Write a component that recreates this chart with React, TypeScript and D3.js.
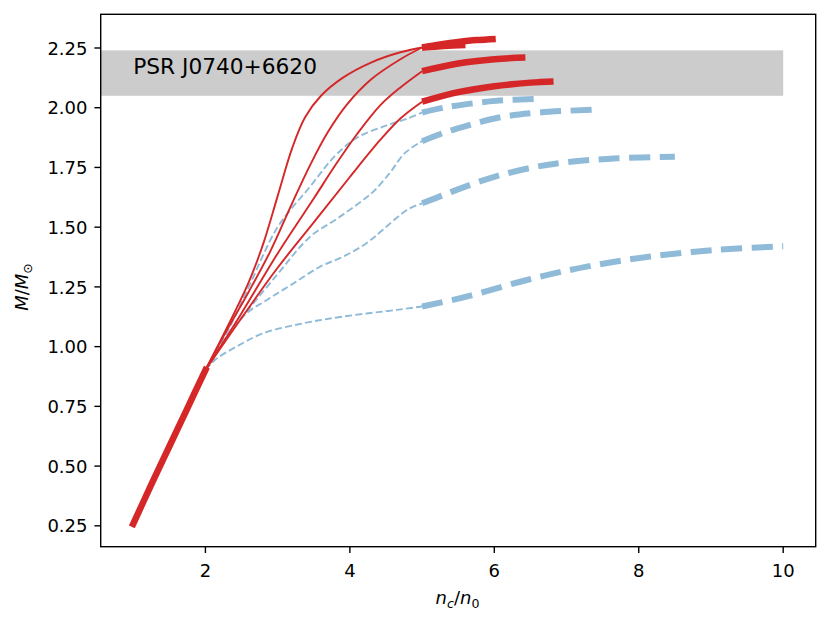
import * as d3 from 'd3';

type Pt = [number, number];

// hadronic branch shared by all curves
const lowBranch: Pt[] = [
  [1.0, 0.258], [1.25, 0.422], [1.5, 0.582], [1.75, 0.742], [2.0, 0.902],
];

// red: thin part up to n_c/n_0 = 5, thick part beyond
const redThin: Pt[][] = [
  [[2, 0.902], [2.3, 1.08], [2.6, 1.27], [2.8, 1.43], [3.0, 1.63], [3.2, 1.83], [3.38, 1.96], [3.6, 2.05], [3.9, 2.125], [4.3, 2.19], [4.7, 2.232], [5, 2.252]],
  [[2, 0.902], [2.3, 1.07], [2.6, 1.23], [2.9, 1.4], [3.2, 1.6], [3.45, 1.76], [3.7, 1.9], [3.95, 2.01], [4.3, 2.12], [4.7, 2.203], [5, 2.252]],
  [[2, 0.902], [2.5, 1.14], [3.0, 1.39], [3.5, 1.62], [3.8, 1.76], [4.1, 1.89], [4.42, 2.01], [4.7, 2.085], [5, 2.153]],
  [[2, 0.902], [2.5, 1.12], [3.0, 1.33], [3.5, 1.52], [4.0, 1.71], [4.42, 1.865], [4.7, 1.955], [5, 2.025]],
];
const redThick: Pt[][] = [
  [[5, 2.252], [5.3, 2.258], [5.6, 2.263]],
  [[5, 2.252], [5.25, 2.265], [5.5, 2.275], [5.75, 2.283], [6.02, 2.288]],
  [[5, 2.153], [5.5, 2.185], [6.0, 2.203], [6.43, 2.21]],
  [[5, 2.025], [5.5, 2.065], [6.0, 2.09], [6.5, 2.105], [6.82, 2.11]],
];

// blue: dashed, thin up to 5, thick beyond
const blueThin: Pt[][] = [
  [[2, 0.902], [2.3, 1.06], [2.6, 1.25], [3.0, 1.5], [3.45, 1.67], [3.8, 1.8], [4.1, 1.875], [4.5, 1.925], [4.8, 1.955], [5, 1.98]],
  [[2, 0.902], [2.4, 1.08], [2.99, 1.3], [3.45, 1.46], [3.82, 1.535], [4.1, 1.595], [4.33, 1.65], [4.56, 1.73], [4.76, 1.81], [5, 1.86]],
  [[2, 0.902], [2.52, 1.126], [2.85, 1.195], [3.22, 1.265], [3.59, 1.335], [3.91, 1.377], [4.23, 1.433], [4.46, 1.49], [4.79, 1.572], [5, 1.6]],
  [[2, 0.902], [2.16, 0.951], [2.43, 1.0], [2.8, 1.056], [3.36, 1.098], [3.91, 1.126], [4.65, 1.154], [5, 1.168]],
];
const blueThick: Pt[][] = [
  [[5, 1.98], [5.3, 2.0], [5.62, 2.015], [6.03, 2.029], [6.6, 2.037]],
  [[5, 1.86], [5.3, 1.895], [5.57, 1.92], [6.08, 1.96], [6.63, 1.98], [7.45, 1.993]],
  [[5, 1.6], [5.3, 1.635], [5.6, 1.67], [6.0, 1.711], [6.5, 1.748], [7.0, 1.772], [7.7, 1.788], [8.5, 1.795]],
  [[5, 1.168], [5.6, 1.208], [6.45, 1.279], [7.28, 1.335], [8.16, 1.377], [9.08, 1.405], [10, 1.42]],
];

const xTicks = [2, 4, 6, 8, 10];
const yTicks = [0.25, 0.5, 0.75, 1.0, 1.25, 1.5, 1.75, 2.0, 2.25];
const bandRange: [number, number] = [2.05, 2.24];
const bandEnd = 10;
const bandLabel = 'PSR J0740+6620';
const bandLabelPos: Pt = [1, 2.14];

const W = 830;
const H = 623;
const M = { left: 100.7, right: 815.7, top: 14.3, bottom: 546.7 };

const RED = '#d62728';
const BLUE = '#8fbbd9';
const FONT = 'DejaVu Sans, sans-serif';

export default function App() {
  const x = d3.scaleLinear().domain([0.55, 10.45]).range([M.left, M.right]);
  const y = d3.scaleLinear().domain([0.1626, 2.391]).range([M.bottom, M.top]);

  const line = d3
    .line<Pt>()
    .x((d) => x(d[0]))
    .y((d) => y(d[1]))
    .curve(d3.curveCatmullRom.alpha(0.5));

  const fmt = d3.format('.2f');

  return (
    <div style={{ position: 'fixed', left: 0, top: 0 }}>
      <svg width={W} height={H} style={{ display: 'block', background: '#fff' }}>
        {/* observational band */}
        <rect
          x={M.left}
          y={y(bandRange[1])}
          width={x(bandEnd) - M.left}
          height={y(bandRange[0]) - y(bandRange[1])}
          fill="#cccccc"
        />
        <text x={x(bandLabelPos[0])} y={y(bandLabelPos[1])} fontFamily={FONT} fontSize={21.7} fill="#000">
          {bandLabel}
        </text>

        {/* blue dashed curves */}
        {blueThin.map((d, i) => (
          <path key={'bt' + i} d={line(d) ?? ''} fill="none" stroke={BLUE} strokeWidth={1.9} strokeDasharray="7,3.2" />
        ))}
        {blueThick.map((d, i) => (
          <path key={'bk' + i} d={line(d) ?? ''} fill="none" stroke={BLUE} strokeWidth={6} strokeDasharray="21,9.5" />
        ))}

        {/* red curves */}
        <path d={line(lowBranch) ?? ''} fill="none" stroke={RED} strokeWidth={6.5} strokeLinecap="square" />
        {redThin.map((d, i) => (
          <path key={'rt' + i} d={line(d) ?? ''} fill="none" stroke={RED} strokeWidth={1.9} />
        ))}
        {redThick.map((d, i) => (
          <path key={'rk' + i} d={line(d) ?? ''} fill="none" stroke={RED} strokeWidth={6.5} strokeLinecap="butt" />
        ))}

        {/* axes frame */}
        <rect
          x={M.left}
          y={M.top}
          width={M.right - M.left}
          height={M.bottom - M.top}
          fill="none"
          stroke="#000"
          strokeWidth={1.4}
        />

        {/* x ticks */}
        {xTicks.map((t) => (
          <g key={'x' + t}>
            <line x1={x(t)} x2={x(t)} y1={M.bottom} y2={M.bottom + 6.3} stroke="#000" strokeWidth={1.4} />
            <text x={x(t)} y={576.5} textAnchor="middle" fontFamily={FONT} fontSize={18} fill="#000">
              {t}
            </text>
          </g>
        ))}

        {/* y ticks */}
        {yTicks.map((t) => (
          <g key={'y' + t}>
            <line x1={M.left - 6.3} x2={M.left} y1={y(t)} y2={y(t)} stroke="#000" strokeWidth={1.4} />
            <text x={87.5} y={y(t) + 6.6} textAnchor="end" fontFamily={FONT} fontSize={18} fill="#000">
              {fmt(t)}
            </text>
          </g>
        ))}

        {/* axis labels */}
        <text x={457.5} y={603.5} textAnchor="middle" fontFamily={FONT} fontSize={18} fill="#000">
          <tspan fontStyle="italic">n</tspan>
          <tspan fontStyle="italic" fontSize={12.6} dy={4}>c</tspan>
          <tspan dy={-4}>/</tspan>
          <tspan fontStyle="italic">n</tspan>
          <tspan fontSize={12.6} dy={4}>0</tspan>
        </text>
        <text
          transform={`translate(28,287) rotate(-90)`}
          textAnchor="middle"
          fontFamily={FONT}
          fontSize={18}
          fill="#000"
        >
          <tspan fontStyle="italic">M</tspan>
          <tspan>/</tspan>
          <tspan fontStyle="italic">M</tspan>
          <tspan fontSize={12.6} dy={4}>⊙</tspan>
        </text>
      </svg>
    </div>
  );
}
